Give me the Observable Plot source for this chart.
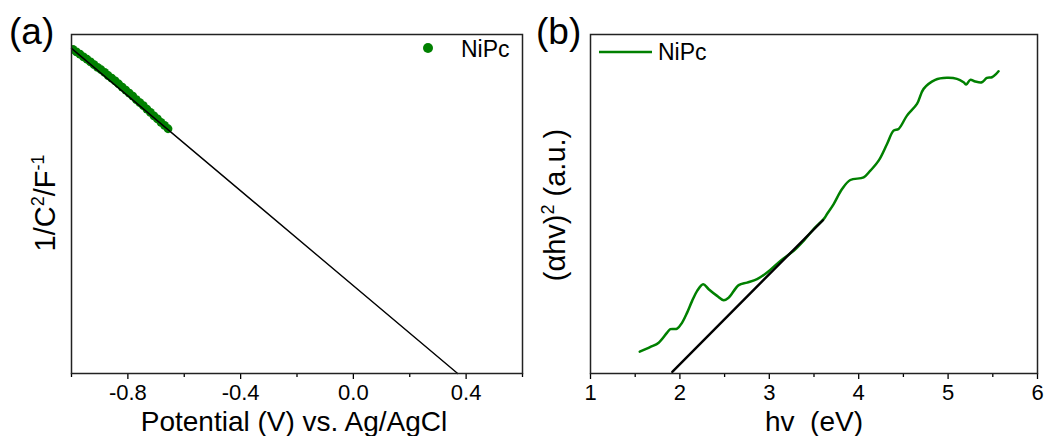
<!DOCTYPE html>
<html><head><meta charset="utf-8">
<script src="https://cdn.jsdelivr.net/npm/d3@7"></script>
<script src="https://cdn.jsdelivr.net/npm/@observablehq/plot@0.6"></script>
<style>
html,body{margin:0;padding:0;background:#fff;}
#wrap{position:relative;width:1046px;height:436px;overflow:hidden;font-family:"Liberation Sans",Arial,sans-serif;}
#wrap svg{position:absolute;top:0;}
</style></head><body><div id="wrap"></div>
<script>
// ---- Panel (a): Mott-Schottky ----
const potential = [-0.995,-0.9825,-0.970,-0.9575,-0.945,-0.9325,-0.920,-0.9075,-0.895,-0.8825,-0.870,-0.8575,-0.845,-0.8325,-0.820,-0.8075,-0.795,-0.7825,-0.770,-0.7575,-0.745,-0.7325,-0.720,-0.7075,-0.695,-0.6825,-0.670,-0.6575];
const invC2 = [9.56,9.49,9.42,9.34,9.27,9.19,9.11,9.03,8.96,8.88,8.79,8.71,8.63,8.54,8.45,8.36,8.27,8.18,8.08,7.99,7.90,7.80,7.70,7.60,7.51,7.41,7.32,7.22];
const fitAX = [-1.0, 0.37];
const fitAY = [9.59, 0];
const xTicksA = [-0.8, -0.4, 0.0, 0.4];
const xMinorA = [-1.0, -0.6, -0.2, 0.2, 0.6];

// ---- Panel (b): Tauc plot ----
const hv = [1.551,1.671,1.763,1.857,1.894,1.969,2.025,2.081,2.137,2.193,2.260,2.322,2.416,2.490,2.546,2.658,2.752,2.863,2.975,3.124,3.273,3.384,3.496,3.608,3.646,3.720,3.814,3.906,4.055,4.130,4.223,4.317,4.390,4.446,4.540,4.652,4.726,4.856,4.987,5.099,5.173,5.203,5.248,5.304,5.378,5.434,5.490,5.538,5.564];
const ahv2 = [0.644,0.783,0.910,1.205,1.306,1.323,1.501,1.796,2.142,2.437,2.635,2.487,2.290,2.162,2.239,2.606,2.682,2.783,2.978,3.323,3.619,3.914,4.260,4.555,4.703,4.999,5.442,5.708,5.784,5.982,6.278,6.771,7.164,7.214,7.607,7.953,8.396,8.662,8.721,8.691,8.591,8.523,8.662,8.612,8.591,8.721,8.739,8.839,8.916];
const fitBX = [1.915, 3.60];
const fitBY = [0.05, 4.52];
const xTicksB = [1, 2, 3, 4, 5, 6];
const xMinorB = [1.5, 2.5, 3.5, 4.5, 5.5];

const seriesName = "NiPc";
const green = "#008000";
const font = "'Liberation Sans', Arial, sans-serif";

const dataA = potential.map((x, i) => ({x, y: invC2[i]}));
const fitA = fitAX.map((x, i) => ({x, y: fitAY[i]}));
const dataB = hv.map((x, i) => ({x, y: ahv2[i]}));
const fitB = fitBX.map((x, i) => ({x, y: fitBY[i]}));

const style = {fontFamily: font, fontSize: "22px", color: "#000", background: "transparent", overflow: "visible"};

const plotA = Plot.plot({
  width: 530, height: 436,
  marginLeft: 71, marginRight: 8, marginTop: 34, marginBottom: 63,
  style,
  x: {domain: [-1.0, 0.6], label: null},
  y: {domain: [0, 10], axis: null},
  marks: [
    Plot.dot(dataA, {x: "x", y: "y", r: 4.4, fill: green, stroke: "none", clip: true}),
    Plot.line(fitA, {x: "x", y: "y", stroke: "#000", strokeWidth: 1.4}),
    Plot.axisX(xMinorA, {tickSize: 4, tickFormat: () => "", label: null, strokeWidth: 1.3}),
    Plot.axisX(xTicksA, {tickSize: 6, tickPadding: 5, tickFormat: d => d.toFixed(1), label: null, strokeWidth: 1.3}),
    Plot.frame({stroke: "#222", strokeWidth: 1.5})
  ]
});

const plotB = Plot.plot({
  width: 516, height: 436,
  marginLeft: 60, marginRight: 9, marginTop: 34, marginBottom: 63,
  style,
  x: {domain: [1, 6], label: null},
  y: {domain: [0, 10], axis: null},
  marks: [
    Plot.line(dataB, {x: "x", y: "y", stroke: green, strokeWidth: 2.5, curve: "catmull-rom"}),
    Plot.line(fitB, {x: "x", y: "y", stroke: "#000", strokeWidth: 2.4}),
    Plot.axisX(xMinorB, {tickSize: 4, tickFormat: () => "", label: null, strokeWidth: 1.3}),
    Plot.axisX(xTicksB, {tickSize: 6, tickPadding: 5, tickFormat: d => String(d), label: null, strokeWidth: 1.3}),
    Plot.frame({stroke: "#222", strokeWidth: 1.5})
  ]
});

const wrap = document.getElementById("wrap");
plotA.style.left = "0px";
plotB.style.left = "530px";
wrap.appendChild(plotA);
wrap.appendChild(plotB);

function addText(svg, x, y, size, parts, opts = {}) {
  const t = d3.select(svg).append("text")
    .attr("font-family", font).attr("font-size", size).attr("fill", "#000")
    .attr("text-anchor", opts.anchor || "start");
  if (opts.rotate) t.attr("transform", `translate(${x},${y}) rotate(${opts.rotate})`).attr("dy", "0.35em");
  else t.attr("x", x).attr("y", y);
  let shift = 0;
  for (const p of parts) {
    const sup = typeof p === "object";
    const s = t.append("tspan").text(sup ? p.sup : p);
    const target = sup ? -Math.round(size * 0.38) : 0;
    if (target !== shift) { s.attr("dy", target - shift); shift = target; }
    if (sup) s.attr("font-size", Math.round(size * 0.62));
  }
  return t;
}

// Panel (a) decorations
addText(plotA, 9, 44, 37, ["(a)"]);
addText(plotA, 45, 203, 29, ["1/C", {sup: "2"}, "/F", {sup: "-1"}], {anchor: "middle", rotate: -90});
addText(plotA, 294, 431, 28, ["Potential (V) vs. Ag/AgCl"], {anchor: "middle"});
d3.select(plotA).append("circle").attr("cx", 428).attr("cy", 48).attr("r", 5).attr("fill", green);
addText(plotA, 461, 57, 23, [seriesName]);

// Panel (b) decorations
addText(plotB, 6, 44, 37, ["(b)"]);
addText(plotB, 25, 205, 29, ["(\u03b1hv)", {sup: "2"}, "\u00a0(a.u.)"], {anchor: "middle", rotate: -90});
addText(plotB, 284, 431, 28, ["hv\u00a0\u00a0(eV)"], {anchor: "middle"});
d3.select(plotB).append("line").attr("x1", 69).attr("x2", 122).attr("y1", 52).attr("y2", 52)
  .attr("stroke", green).attr("stroke-width", 2.5);
addText(plotB, 128, 60, 23, [seriesName]);
</script>
</body></html>
